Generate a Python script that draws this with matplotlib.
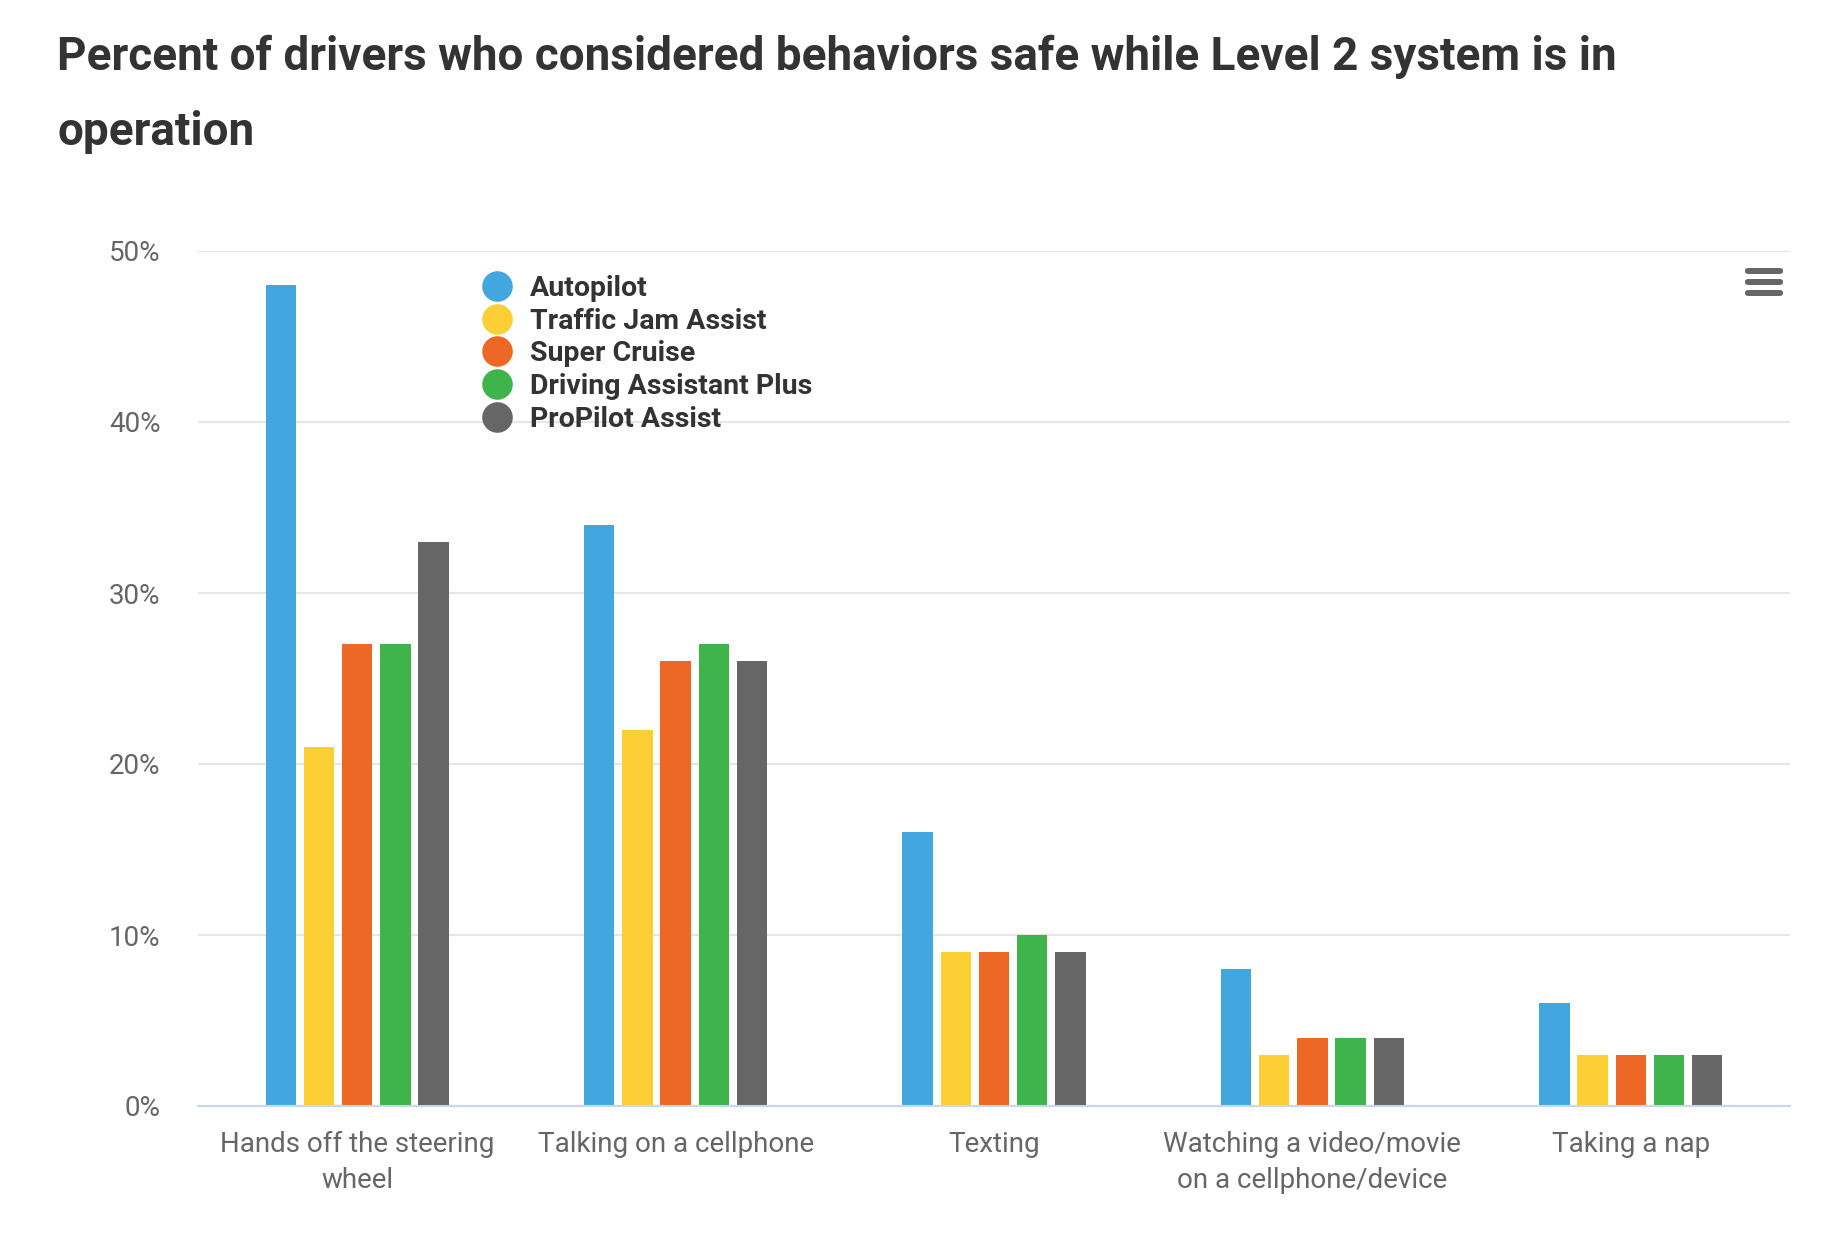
import matplotlib
matplotlib.use("Agg")
import matplotlib.pyplot as plt
from matplotlib.lines import Line2D
from matplotlib.patches import FancyBboxPatch
import numpy as np

categories = ["Hands off the steering\nwheel", "Talking on a cellphone", "Texting",
              "Watching a video/movie\non a cellphone/device", "Taking a nap"]
series_names = ["Autopilot", "Traffic Jam Assist", "Super Cruise",
                "Driving Assistant Plus", "ProPilot Assist"]
autopilot = [48, 34, 16, 8, 6]
traffic_jam_assist = [21, 22, 9, 3, 3]
super_cruise = [27, 26, 9, 4, 3]
driving_assistant_plus = [27, 27, 10, 4, 3]
propilot_assist = [33, 26, 9, 4, 3]
series_values = [autopilot, traffic_jam_assist, super_cruise,
                 driving_assistant_plus, propilot_assist]
colors = ["#42a6df", "#fccf34", "#ed6824", "#3fb44b", "#666666"]
yticks = [0, 10, 20, 30, 40, 50]
ytick_labels = ["0%", "10%", "20%", "30%", "40%", "50%"]
title = "Percent of drivers who considered behaviors safe while Level 2 system is in\noperation"

plt.rcParams['font.family'] = ['Roboto', 'DejaVu Sans']

fig = plt.figure(figsize=(18.22, 12.5), dpi=100)
ax = fig.add_axes([198/1822, 1 - 1106/1250, (1790-198)/1822, (1106-251)/1250])

x = np.arange(len(categories))
bw = 0.095
pitch = 0.12
for i, (vals, c) in enumerate(zip(series_values, colors)):
    ax.bar(x + (i - 2) * pitch, vals, width=bw, color=c, zorder=3, linewidth=0)

ax.set_xlim(-0.5, len(categories) - 0.5)
ax.set_ylim(0, 50)
ax.set_yticks(yticks)
ax.set_yticklabels(ytick_labels)
ax.set_xticks(x)
ax.set_xticklabels(categories, linespacing=1.42)
ax.tick_params(axis='y', length=0, pad=27, labelsize=20, labelcolor="#666666")
ax.tick_params(axis='x', length=0, pad=18, labelsize=20, labelcolor="#666666")
ax.grid(axis='y', color="#e6e6e6", linewidth=1.5, zorder=0)
for s in ["top", "right", "left"]:
    ax.spines[s].set_visible(False)
ax.spines["bottom"].set_color("#ccd6eb")
ax.spines["bottom"].set_linewidth(1.5)
ax.spines["bottom"].set_zorder(4)

handles = [Line2D([], [], marker='o', linestyle='none', markersize=22,
                  markerfacecolor=c, markeredgecolor='none') for c in colors]
leg = ax.legend(handles, series_names, loc='upper left',
                bbox_to_anchor=(483/1822, 1 - 275/1250), bbox_transform=fig.transFigure,
                frameon=False, prop={'size': 20.5, 'weight': 'bold'},
                labelspacing=0.20, handletextpad=0.65, handlelength=1.0,
                borderpad=0, borderaxespad=0)
for t in leg.get_texts():
    t.set_color("#333333")

fig.text(57/1822, 1 - 35/1250, title, fontsize=33, fontweight='bold',
         color="#333333", va='top', ha='left', linespacing=1.87)

# menu icon
for k in range(3):
    yy = 1 - (271 + k * 11) / 1250
    fig.add_artist(FancyBboxPatch((1745/1822, yy - 3/1250), 38/1822, 6/1250,
                                  boxstyle="round,pad=0,rounding_size=0.002",
                                  transform=fig.transFigure, color="#666666", linewidth=0))

fig.savefig("out.png", dpi=100, facecolor="white")
